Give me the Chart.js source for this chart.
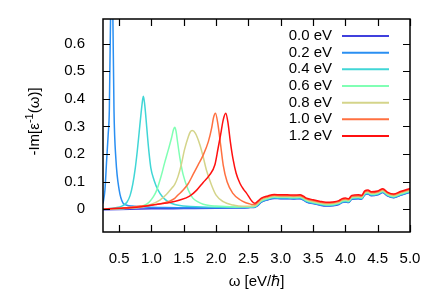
<!DOCTYPE html>
<html><head><meta charset="utf-8">
<script src="https://cdn.jsdelivr.net/npm/chart.js@4/dist/chart.umd.min.js"></script>
<style>html,body{margin:0;padding:0;background:#fff}#wrap{width:436px;height:305px}</style>
</head><body><div id="wrap"><canvas id="c" width="436" height="305"></canvas></div>
<script>
// ---- data ----
const seriesLabels = ['0.0 eV', '0.2 eV', '0.4 eV', '0.6 eV', '0.8 eV', '1.0 eV', '1.2 eV'];
const seriesColors = ['#4040dd', '#2a8ff2', '#40d6d6', '#80ffb4', '#d4d48a', '#ff7040', '#ff1010'];
const xTickValues = [0.5, 1.0, 1.5, 2.0, 2.5, 3.0, 3.5, 4.0, 4.5, 5.0];
const yTickValues = [0, 0.1, 0.2, 0.3, 0.4, 0.5, 0.6];

const tailOmega = [2.6, 2.65, 2.7, 2.8, 2.9, 3.0, 3.1, 3.2, 3.3, 3.35, 3.4, 3.5, 3.6, 3.7, 3.8, 3.9, 3.95, 4.0, 4.05, 4.1, 4.2, 4.25, 4.3, 4.35, 4.4, 4.5, 4.58, 4.65, 4.75, 4.85, 5.0];

const omega00 = [0.25, 0.5, 1.0, 1.5, 2.0, 2.3, 2.5, 2.55];
const loss00 = [-0.002, -0.001, 0.001, 0.002, 0.003, 0.004, 0.005, 0.006];
const tail00 = [.007, .014, .025, .034, .039, .038, .038, .037, .038, .033, .026, .020, .015, .011, .012, .017, .024, .026, .024, .036, .038, .036, .052, .055, .049, .052, .060, .048, .041, .050, .061];

const omega02 = [0.25, 0.28, 0.307, 0.33, 0.348, 0.37, 0.385, 0.40, 0.42, 0.45, 0.50, 0.56, 0.62, 0.7, 0.9, 1.2, 1.6, 2.0, 2.3, 2.5, 2.55];
const loss02 = [0.02, 0.07, 0.18, 0.27, 0.36, 0.75, 1.2, 0.75, 0.36, 0.18, 0.07, 0.022, 0.014, 0.011, 0.008, 0.006, 0.005, 0.005, 0.005, 0.006, 0.007];
const tail02 = [.008, .015, .026, .035, .040, .039, .039, .038, .039, .034, .027, .021, .016, .012, .013, .018, .025, .027, .025, .037, .039, .037, .053, .056, .050, .053, .061, .049, .042, .051, .062];

const omega04 = [0.25, 0.45, 0.55, 0.62, 0.67, 0.71, 0.75, 0.78, 0.81, 0.84, 0.865, 0.875, 0.895, 0.915, 0.94, 0.962, 0.99, 1.04, 1.1, 1.17, 1.24, 1.36, 1.6, 2.0, 2.5, 2.55];
const loss04 = [0.0, 0.005, 0.012, 0.025, 0.05, 0.09, 0.15, 0.21, 0.28, 0.35, 0.40, 0.41, 0.38, 0.33, 0.26, 0.205, 0.15, 0.105, 0.07, 0.045, 0.03, 0.017, 0.01, 0.007, 0.007, 0.008];
const tail04 = [.009, .017, .028, .037, .042, .041, .041, .040, .041, .036, .029, .023, .018, .014, .015, .020, .027, .029, .027, .039, .041, .039, .055, .058, .052, .055, .063, .051, .044, .053, .064];

const omega06 = [0.25, 0.6, 0.8, 0.9, 0.97, 1.03, 1.08, 1.15, 1.2, 1.26, 1.31, 1.34, 1.36, 1.38, 1.40, 1.44, 1.49, 1.57, 1.64, 1.72, 1.8, 2.0, 2.3, 2.5, 2.55];
const loss06 = [0.0, 0.003, 0.008, 0.015, 0.027, 0.045, 0.068, 0.12, 0.165, 0.215, 0.258, 0.288, 0.297, 0.283, 0.25, 0.185, 0.125, 0.069, 0.04, 0.026, 0.018, 0.011, 0.008, 0.009, 0.009];
const tail06 = [.010, .019, .030, .039, .044, .043, .043, .042, .043, .038, .031, .025, .020, .016, .017, .022, .029, .031, .029, .041, .043, .041, .057, .060, .054, .057, .065, .053, .046, .055, .066];

const omega08 = [0.25, 0.6, 0.8, 0.97, 1.13, 1.23, 1.31, 1.36, 1.41, 1.46, 1.51, 1.57, 1.6, 1.63, 1.68, 1.75, 1.8, 1.85, 1.93, 2.0, 2.11, 2.26, 2.42, 2.5, 2.55];
const loss08 = [0.0, 0.002, 0.006, 0.015, 0.033, 0.053, 0.075, 0.09, 0.118, 0.16, 0.215, 0.263, 0.28, 0.285, 0.275, 0.233, 0.19, 0.142, 0.087, 0.051, 0.027, 0.015, 0.01, 0.01, 0.011];
const tail08 = [.012, .022, .033, .042, .047, .046, .046, .045, .046, .041, .034, .028, .023, .019, .020, .025, .032, .034, .032, .044, .046, .044, .060, .063, .057, .060, .068, .056, .049, .058, .069];

const omega10 = [0.25, 0.5, 0.77, 1.08, 1.28, 1.36, 1.41, 1.49, 1.57, 1.64, 1.72, 1.8, 1.88, 1.93, 1.96, 1.99, 2.03, 2.07, 2.11, 2.17, 2.26, 2.37, 2.45, 2.52, 2.55];
const loss10 = [0.0, 0.003, 0.01, 0.017, 0.029, 0.039, 0.051, 0.069, 0.093, 0.124, 0.16, 0.196, 0.245, 0.293, 0.332, 0.348, 0.305, 0.233, 0.16, 0.099, 0.057, 0.034, 0.024, 0.019, 0.017];
const tail10 = [.017, .027, .037, .045, .050, .049, .049, .048, .049, .044, .037, .031, .026, .022, .023, .028, .035, .037, .035, .047, .049, .047, .063, .066, .060, .063, .071, .059, .052, .061, .072];

const omega12 = [0.25, 0.5, 0.77, 1.02, 1.28, 1.44, 1.59, 1.7, 1.8, 1.9, 1.98, 2.03, 2.07, 2.11, 2.15, 2.185, 2.22, 2.26, 2.31, 2.37, 2.43, 2.47, 2.52, 2.55];
const loss12 = [0.0, 0.003, 0.007, 0.015, 0.024, 0.033, 0.047, 0.069, 0.097, 0.124, 0.16, 0.22, 0.27, 0.324, 0.348, 0.311, 0.245, 0.184, 0.13, 0.093, 0.07, 0.058, 0.04, 0.03];
const tail12 = [.021, .030, .040, .048, .053, .052, .052, .051, .052, .047, .040, .034, .029, .025, .026, .031, .038, .040, .038, .050, .052, .050, .066, .069, .063, .066, .074, .062, .055, .064, .075];

// ---- build ----
const seriesParts = [
  [omega00, loss00, tail00], [omega02, loss02, tail02], [omega04, loss04, tail04],
  [omega06, loss06, tail06], [omega08, loss08, tail08], [omega10, loss10, tail10], [omega12, loss12, tail12]
];
const FONT = '"Liberation Sans", Arial, Helvetica, sans-serif';
const FS = 15;
Chart.defaults.color = '#000';
Chart.defaults.font.family = FONT;
Chart.defaults.font.size = FS;

const datasets = seriesParts.map((p, i) => {
  const pts = p[0].map((w, k) => ({x: w, y: p[1][k]}))
    .concat(tailOmega.map((w, k) => ({x: w, y: p[2][k]})));
  return {
    label: seriesLabels[i], data: pts, borderColor: seriesColors[i], backgroundColor: seriesColors[i],
    borderWidth: 1.5, pointRadius: 0, fill: false, tension: 0, cubicInterpolationMode: 'monotone', order: 6 - i
  };
});

const framePlugin = {
  id: 'frame',
  afterDatasetsDraw(chart) {
    const {ctx, chartArea: a, scales: {x, y}} = chart;
    ctx.save();
    ctx.strokeStyle = '#000';
    ctx.lineWidth = 1.2;
    const L = 7;
    ctx.beginPath();
    xTickValues.forEach(v => {
      const px = Math.round(x.getPixelForValue(v)) + 0.5;
      ctx.moveTo(px, a.bottom); ctx.lineTo(px, a.bottom - L);
      ctx.moveTo(px, a.top); ctx.lineTo(px, a.top + L);
    });
    yTickValues.forEach(v => {
      const py = Math.round(y.getPixelForValue(v)) + 0.5;
      ctx.moveTo(a.left, py); ctx.lineTo(a.left + L, py);
      ctx.moveTo(a.right, py); ctx.lineTo(a.right - L, py);
    });
    ctx.stroke();
    ctx.lineWidth = 1.5;
    ctx.strokeRect(a.left, a.top, a.right - a.left, a.bottom - a.top);
    // key
    ctx.font = FS + 'px ' + FONT;
    ctx.textAlign = 'right';
    ctx.textBaseline = 'middle';
    chart.data.datasets.forEach((d, i) => {
      const yy = a.top + 17 + i * 16.67;
      ctx.fillStyle = '#000';
      ctx.fillText(d.label, a.right - 78, yy);
      ctx.strokeStyle = d.borderColor;
      ctx.lineWidth = 2;
      ctx.beginPath();
      ctx.moveTo(a.right - 68, yy); ctx.lineTo(a.right - 21, yy);
      ctx.stroke();
    });
    // y-axis title with real superscript
    ctx.translate(35, (a.top + a.bottom) / 2 - 4);
    ctx.rotate(-Math.PI / 2);
    ctx.textAlign = 'left';
    ctx.textBaseline = 'middle';
    const big = FS + 'px ' + FONT, small = Math.round(FS * 0.7) + 'px ' + FONT;
    const parts = [['-Im[ε', big, 0], ['-1', small, -5], ['(ω)]', big, 0]];
    let w = 0;
    parts.forEach(p => { ctx.font = p[1]; w += ctx.measureText(p[0]).width; });
    let cx = -w / 2;
    ctx.fillStyle = '#000';
    parts.forEach(p => { ctx.font = p[1]; ctx.fillText(p[0], cx, p[2]); cx += ctx.measureText(p[0]).width; });
    ctx.restore();
  }
};

new Chart(document.getElementById('c'), {
  type: 'line',
  data: {datasets},
  options: {
    responsive: false, animation: false, devicePixelRatio: 1,
    layout: {padding: {left: 0, right: 26, top: 19, bottom: 0}},
    plugins: {legend: {display: false}, tooltip: {enabled: false}},
    scales: {
      x: {
        type: 'linear', min: 0.25, max: 5.0,
        grid: {display: false}, border: {display: false},
        afterBuildTicks: s => { s.ticks = xTickValues.map(v => ({value: v})); },
        afterFit: s => { s.height = 73; },
        ticks: {padding: 10, maxRotation: 0, autoSkip: false, callback: v => v.toFixed(1)},
        title: {display: true, text: 'ω [eV/ℏ]', padding: {top: 0, bottom: 14.6}}
      },
      y: {
        type: 'linear', min: -0.083, max: 0.69,
        grid: {display: false}, border: {display: false},
        afterBuildTicks: s => { s.ticks = yTickValues.map(v => ({value: v})); },
        afterFit: s => { s.width = 103; },
        ticks: {padding: 10, autoSkip: false, callback: v => v === 0 ? '0' : v.toFixed(1)},
        title: {display: false}
      }
    }
  },
  plugins: [framePlugin]
});
</script></body></html>
